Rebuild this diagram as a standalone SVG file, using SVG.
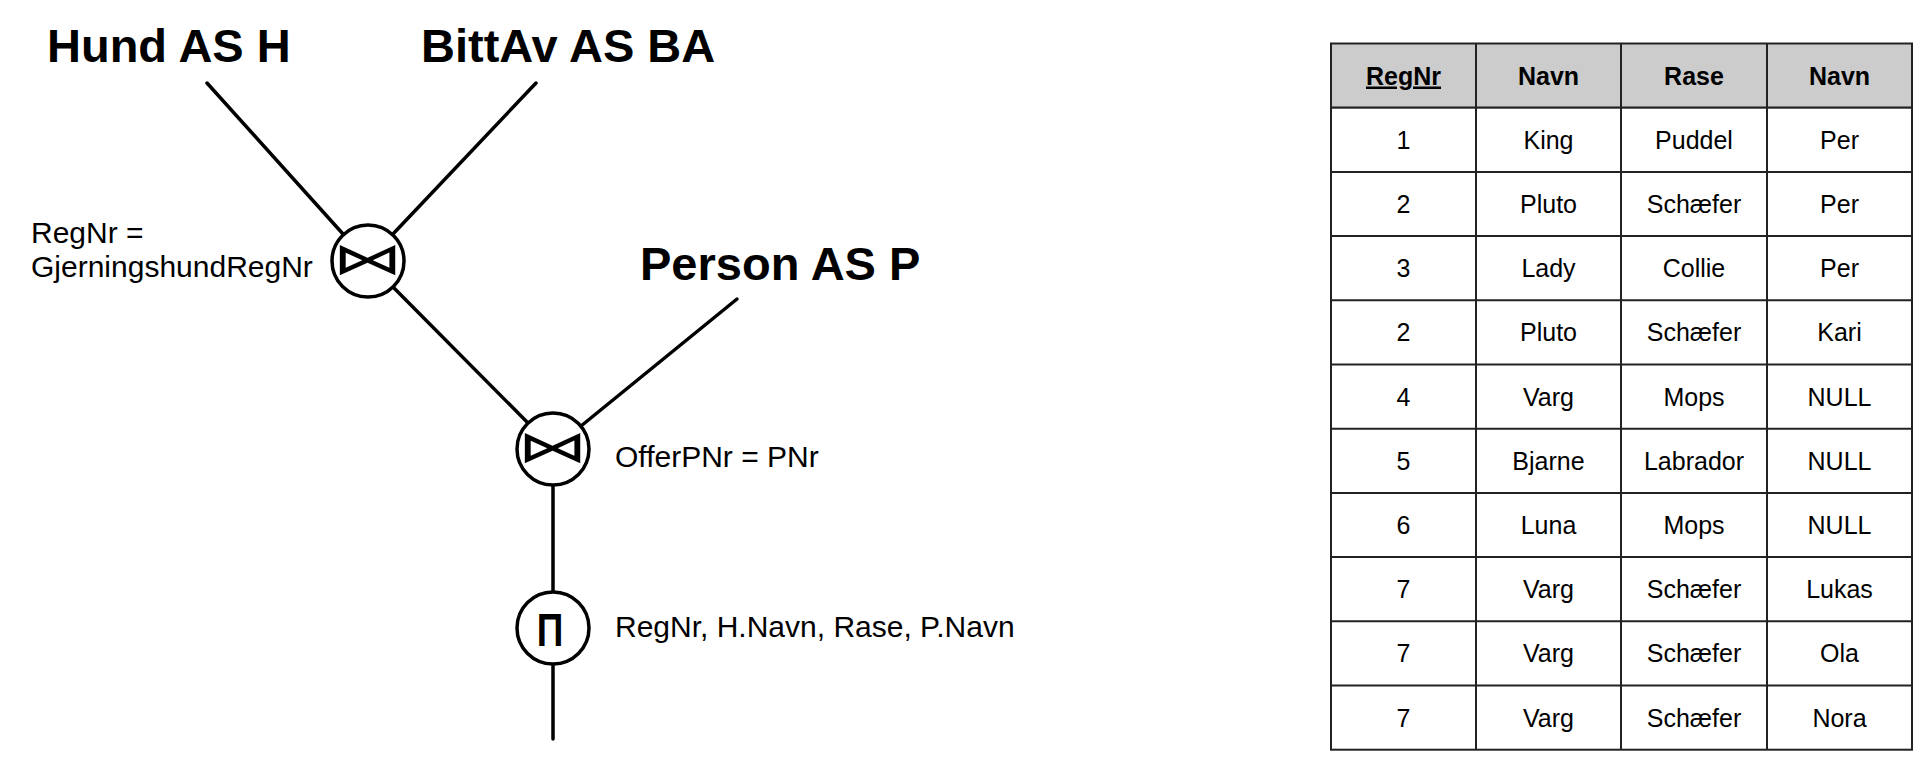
<svg xmlns="http://www.w3.org/2000/svg" width="1924" height="764" viewBox="0 0 1924 764">
<style>
.rel{font-family:"Liberation Sans",Arial,sans-serif;font-weight:bold;font-size:47px;fill:#000}
.lbl{font-family:"Liberation Sans",Arial,sans-serif;font-size:30px;fill:#000}
.op{fill:#fff;stroke:#000;stroke-width:3.5}
.sym{font-family:"DejaVu Sans",sans-serif;font-size:44px;fill:#000;text-anchor:middle}
.pi{font-family:"Liberation Sans",Arial,sans-serif;font-weight:bold;font-size:46px;fill:#000;text-anchor:middle}
.edge{stroke:#000;stroke-width:3.5;fill:none;stroke-linecap:round}
.cell{fill:#fff;stroke:#222;stroke-width:2}
.head{fill:#cccccc;stroke:#222;stroke-width:2}
.th{font-family:"Liberation Sans",Arial,sans-serif;font-weight:bold;font-size:25px;fill:#000;text-anchor:middle}
.td{font-family:"Liberation Sans",Arial,sans-serif;font-size:25px;fill:#000;text-anchor:middle}
</style>
<rect width="1924" height="764" fill="#fff"/>
<g id="connectors">
<line class="edge" x1="207" y1="83" x2="343" y2="234"/>
<line class="edge" x1="536" y1="83" x2="393" y2="234"/>
<line class="edge" x1="393" y1="287" x2="528" y2="423"/>
<line class="edge" x1="737" y1="299" x2="581" y2="426"/>
<line class="edge" x1="553" y1="485" x2="553" y2="592"/>
<line class="edge" x1="553" y1="664" x2="553" y2="739"/>
</g>
<g id="hund"><text class="rel" x="47" y="62">Hund AS H</text></g>
<g id="bittav"><text class="rel" x="421" y="62">BittAv AS BA</text></g>
<g id="person"><text class="rel" x="640" y="280">Person AS P</text></g>
<g id="join1">
<circle class="op" cx="368" cy="261" r="36"/>
<text class="sym" transform="translate(368,274) scale(1.6,1)" x="0" y="0">⋈</text>
<text class="lbl" x="31" y="243">RegNr =</text>
<text class="lbl" x="31" y="277">GjerningshundRegNr</text>
</g>
<g id="join2">
<circle class="op" cx="553" cy="449" r="36"/>
<text class="sym" transform="translate(553,462) scale(1.6,1)" x="0" y="0">⋈</text>
<text class="lbl" x="615" y="467">OfferPNr = PNr</text>
</g>
<g id="projection">
<circle class="op" cx="553" cy="628" r="36"/>
<text class="pi" transform="translate(550,646) scale(0.8,1)" x="0" y="0">Π</text>
<text class="lbl" x="615" y="637">RegNr, H.Navn, Rase, P.Navn</text>
</g>
<g id="result-table">
<rect class="head" x="1331" y="43.5" width="581" height="64.2"/>
<rect class="cell" x="1331" y="107.7" width="581" height="642"/>
<g stroke="#222" stroke-width="2">
<line x1="1476" y1="43.5" x2="1476" y2="749.7"/>
<line x1="1621" y1="43.5" x2="1621" y2="749.7"/>
<line x1="1767" y1="43.5" x2="1767" y2="749.7"/>
<line x1="1331" y1="171.9" x2="1912" y2="171.9"/>
<line x1="1331" y1="236.1" x2="1912" y2="236.1"/>
<line x1="1331" y1="300.3" x2="1912" y2="300.3"/>
<line x1="1331" y1="364.5" x2="1912" y2="364.5"/>
<line x1="1331" y1="428.7" x2="1912" y2="428.7"/>
<line x1="1331" y1="492.9" x2="1912" y2="492.9"/>
<line x1="1331" y1="557.1" x2="1912" y2="557.1"/>
<line x1="1331" y1="621.3" x2="1912" y2="621.3"/>
<line x1="1331" y1="685.5" x2="1912" y2="685.5"/>
</g>
<text class="th" x="1403.5" y="84.5" text-decoration="underline">RegNr</text>
<text class="th" x="1548.5" y="84.5">Navn</text>
<text class="th" x="1694" y="84.5">Rase</text>
<text class="th" x="1839.5" y="84.5">Navn</text>
<g>
<text class="td" x="1403.5" y="148.7">1</text><text class="td" x="1548.5" y="148.7">King</text><text class="td" x="1694" y="148.7">Puddel</text><text class="td" x="1839.5" y="148.7">Per</text>
<text class="td" x="1403.5" y="212.9">2</text><text class="td" x="1548.5" y="212.9">Pluto</text><text class="td" x="1694" y="212.9">Schæfer</text><text class="td" x="1839.5" y="212.9">Per</text>
<text class="td" x="1403.5" y="277.1">3</text><text class="td" x="1548.5" y="277.1">Lady</text><text class="td" x="1694" y="277.1">Collie</text><text class="td" x="1839.5" y="277.1">Per</text>
<text class="td" x="1403.5" y="341.3">2</text><text class="td" x="1548.5" y="341.3">Pluto</text><text class="td" x="1694" y="341.3">Schæfer</text><text class="td" x="1839.5" y="341.3">Kari</text>
<text class="td" x="1403.5" y="405.5">4</text><text class="td" x="1548.5" y="405.5">Varg</text><text class="td" x="1694" y="405.5">Mops</text><text class="td" x="1839.5" y="405.5">NULL</text>
<text class="td" x="1403.5" y="469.7">5</text><text class="td" x="1548.5" y="469.7">Bjarne</text><text class="td" x="1694" y="469.7">Labrador</text><text class="td" x="1839.5" y="469.7">NULL</text>
<text class="td" x="1403.5" y="533.9">6</text><text class="td" x="1548.5" y="533.9">Luna</text><text class="td" x="1694" y="533.9">Mops</text><text class="td" x="1839.5" y="533.9">NULL</text>
<text class="td" x="1403.5" y="598.1">7</text><text class="td" x="1548.5" y="598.1">Varg</text><text class="td" x="1694" y="598.1">Schæfer</text><text class="td" x="1839.5" y="598.1">Lukas</text>
<text class="td" x="1403.5" y="662.3">7</text><text class="td" x="1548.5" y="662.3">Varg</text><text class="td" x="1694" y="662.3">Schæfer</text><text class="td" x="1839.5" y="662.3">Ola</text>
<text class="td" x="1403.5" y="726.5">7</text><text class="td" x="1548.5" y="726.5">Varg</text><text class="td" x="1694" y="726.5">Schæfer</text><text class="td" x="1839.5" y="726.5">Nora</text>
</g>
</g>
</svg>
